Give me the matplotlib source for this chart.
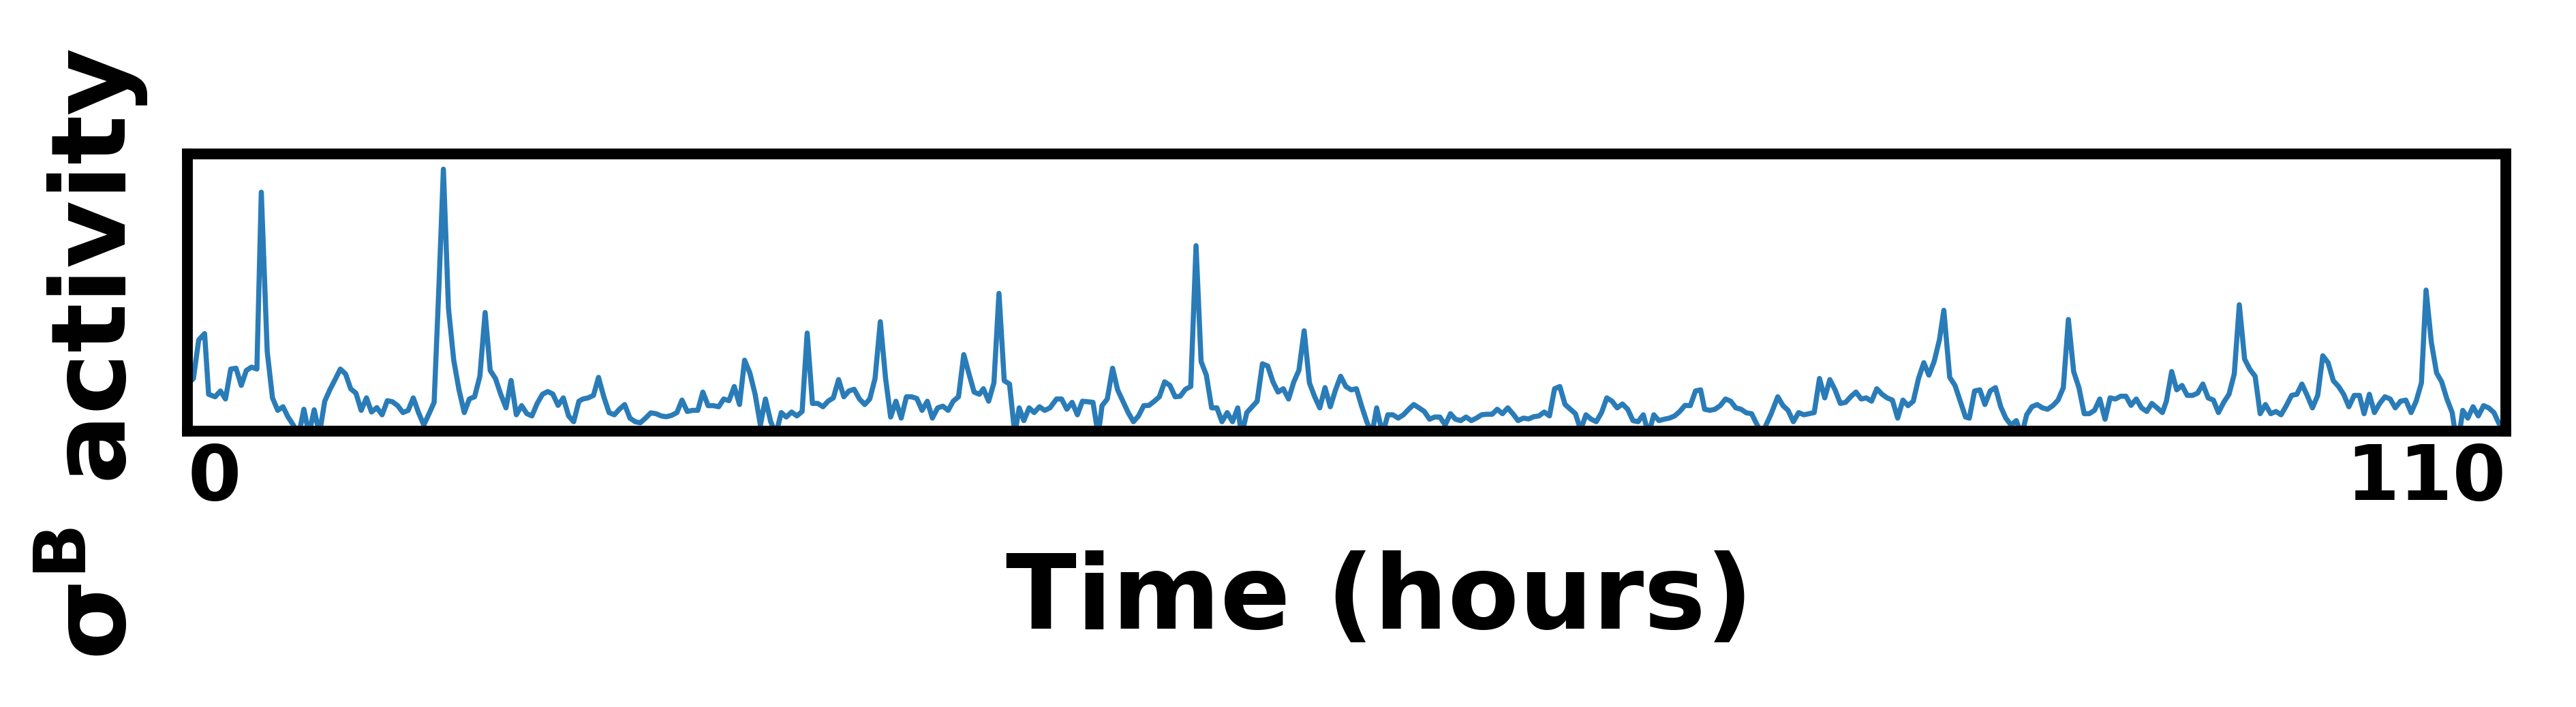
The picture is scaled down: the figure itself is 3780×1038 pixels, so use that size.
import numpy as np
import matplotlib
matplotlib.use('Agg')
import matplotlib.pyplot as plt

# sigma-B reporter trace (hours, activity in % of axis height)
hours = [0.00, 0.28, 0.53, 0.81, 1.00, 1.31, 1.56, 1.80, 2.05, 2.30, 2.55, 2.79, 3.04, 3.29, 3.50, 3.78,
         4.03, 4.28, 4.53, 4.77, 5.02, 5.27, 5.52, 5.76, 6.01, 6.26, 6.51, 6.75, 7.00, 7.25, 7.50, 7.74,
         7.99, 8.24, 8.49, 8.73, 8.98, 9.23, 9.48, 9.72, 9.97, 10.22, 10.47, 10.71, 10.96, 11.21, 11.46,
         11.70, 11.93, 12.14, 12.38, 12.63, 12.88, 13.13, 13.37, 13.62, 13.87, 14.12, 14.36, 14.61, 14.86,
         15.11, 15.35, 15.60, 15.85, 16.10, 16.34, 16.59, 16.84, 17.09, 17.33, 17.58, 17.83, 18.08, 18.32,
         18.57, 18.76, 19.01, 19.26, 19.50, 19.75, 20.00, 20.25, 20.49, 20.74, 20.99, 21.24, 21.48, 21.73,
         21.98, 22.23, 22.47, 22.72, 22.97, 23.22, 23.46, 23.71, 23.96, 24.21, 24.45, 24.70, 24.95, 25.20,
         25.44, 25.69, 25.94, 26.19, 26.43, 26.68, 26.93, 27.18, 27.42, 27.67, 27.92, 28.17, 28.41, 28.66,
         28.91, 29.16, 29.40, 29.65, 29.90, 30.15, 30.39, 30.64, 30.89, 31.14, 31.38, 31.63, 31.88, 32.13,
         32.37, 32.62, 32.87, 33.12, 33.36, 33.61, 33.86, 34.11, 34.35, 34.60, 34.85, 35.10, 35.34, 35.59,
         35.84, 36.09, 36.33, 36.58, 36.83, 37.08, 37.32, 37.57, 37.76, 38.01, 38.26, 38.50, 38.75, 39.00,
         39.25, 39.46, 39.68, 39.93, 40.17, 40.42, 40.67, 40.92, 41.23, 41.47, 41.72, 41.97, 42.22, 42.46,
         42.71, 42.96, 43.21, 43.39, 43.64, 43.89, 44.13, 44.38, 44.63, 44.88, 45.12, 45.37, 45.62, 45.87,
         46.11, 46.36, 46.61, 46.86, 47.10, 47.35, 47.60, 47.85, 48.09, 48.34, 48.59, 48.84, 49.08, 49.33,
         49.58, 49.83, 50.01, 50.26, 50.51, 50.75, 51.00, 51.25, 51.50, 51.74, 51.99, 52.24, 52.49, 52.73,
         52.98, 53.23, 53.48, 53.72, 53.97, 54.22, 54.47, 54.71, 54.96, 55.21, 55.46, 55.70, 55.95, 56.20,
         56.42, 56.70, 56.95, 57.19, 57.44, 57.69, 57.94, 58.18, 58.43, 58.68, 58.93, 59.17, 59.42, 59.67,
         59.92, 60.16, 60.41, 60.66, 60.91, 61.15, 61.40, 61.65, 61.90, 62.14, 62.39, 62.64, 62.88, 63.13,
         63.38, 63.63, 63.87, 64.12, 64.37, 64.62, 64.86, 65.11, 65.36, 65.61, 65.85, 66.10, 66.35, 66.60,
         66.84, 67.09, 67.34, 67.59, 67.83, 68.08, 68.33, 68.58, 68.82, 69.07, 69.32, 69.57, 69.81, 70.06,
         70.31, 70.56, 70.80, 71.05, 71.30, 71.55, 71.79, 71.98, 72.23, 72.47, 72.72, 72.97, 73.22, 73.46,
         73.71, 73.96, 74.21, 74.45, 74.70, 75.14, 75.45, 75.70, 75.94, 76.19, 76.44, 76.69, 76.93, 77.18,
         77.43, 77.68, 77.92, 78.17, 78.42, 78.67, 78.91, 79.16, 79.41, 79.65, 79.90, 80.15, 80.40, 80.64,
         80.89, 81.14, 81.39, 81.63, 81.88, 82.13, 82.38, 82.62, 82.87, 83.12, 83.33, 83.61, 83.86, 84.11,
         84.36, 84.54, 84.79, 85.04, 85.28, 85.53, 85.78, 86.03, 86.27, 86.52, 86.77, 87.02, 87.26, 87.51,
         87.76, 88.01, 88.25, 88.50, 88.75, 89.00, 89.24, 89.49, 89.74, 89.99, 90.23, 90.48, 90.73, 90.98,
         91.22, 91.47, 91.72, 91.97, 92.21, 92.46, 92.71, 92.96, 93.20, 93.45, 93.70, 93.89, 94.14, 94.38,
         94.63, 94.88, 95.13, 95.37, 95.62, 95.87, 96.12, 96.36, 96.61, 96.86, 97.11, 97.35, 97.60, 97.85,
         98.10, 98.34, 98.59, 98.84, 99.09, 99.33, 99.58, 99.83, 100.08, 100.32, 100.57, 100.82, 101.07,
         101.31, 101.56, 101.81, 102.06, 102.30, 102.55, 102.80, 103.05, 103.27, 103.52, 103.76, 104.01,
         104.26, 104.51, 104.75, 105.00, 105.25, 105.50, 105.74, 105.99, 106.21, 106.46, 106.71, 106.95,
         107.20, 107.45, 107.70, 107.95, 108.19, 108.44, 108.69, 108.94, 109.18, 109.43, 109.68, 110.00]

activity = [17.0, 19.0, 32.9, 35.2, 13.3, 12.4, 14.5, 11.6, 22.4, 22.7, 16.5, 21.9, 23.1, 22.4, 86.2, 28.8,
            12.0, 7.5, 8.8, 5.1, 2.2, -1.5, 7.9, -1.0, 7.7, -1.0, 10.8, 14.9, 18.6, 22.4, 20.6, 15.3,
            13.7, 7.5, 12.0, 6.9, 8.5, 5.9, 11.0, 10.6, 9.2, 6.7, 7.5, 12.0, 6.7, 2.2, 6.3,
            10.4, 52.6, 94.5, 44.4, 25.6, 14.9, 6.7, 11.6, 12.4, 19.8, 42.8, 21.9, 19.0, 13.3,
            8.4, 18.3, 5.9, 9.2, 6.3, 5.5, 10.0, 13.3, 14.3, 13.4, 9.3, 12.0, 5.5, 3.4,
            10.8, 11.6, 12.0, 12.9, 19.4, 12.4, 6.7, 5.9, 7.9, 9.6, 4.7, 3.4, 3.0, 4.7,
            6.6, 6.3, 5.5, 5.2, 5.7, 6.7, 11.2, 7.1, 7.5, 7.5, 14.1, 9.2, 9.2, 8.8,
            11.6, 11.0, 16.1, 9.6, 25.6, 21.0, 13.3, 2.2, 11.6, 3.4, -1.0, 6.7, 5.1, 6.9,
            5.5, 7.1, 35.4, 10.0, 10.0, 8.8, 10.8, 12.0, 18.6, 12.4, 14.5, 15.1, 11.6, 9.6,
            11.6, 19.0, 39.5, 19.0, 5.1, 10.8, 4.7, 12.4, 12.4, 11.8, 7.5, 10.8, 4.7, 8.4,
            9.0, 7.5, 10.8, 12.4, 27.6, 20.6, 14.1, 13.3, 15.3, 10.8, 17.4, 49.7, 18.2, 17.0,
            -1.0, 8.4, 3.8, 8.4, 6.7, 8.8, 7.5, 8.4, 11.6, 11.6, 7.9, 10.4, 5.9, 10.8,
            10.6, 10.4, -1.5, 9.2, 11.6, 22.7, 14.9, 10.8, 6.7, 3.4, 5.5, 9.2, 9.3, 10.8,
            12.4, 17.8, 16.5, 12.4, 12.6, 15.1, 16.1, 66.9, 25.1, 20.2, 8.4, 8.4, 3.4, 6.7,
            3.4, 8.4, -1.5, 6.7, 8.8, 10.8, 24.3, 23.5, 17.8, 14.1, 15.3, 11.6, 17.8, 21.9,
            36.2, 17.4, 12.4, 8.4, 15.7, 8.8, 14.9, 19.8, 16.1, 14.9, 15.3, 9.2, 3.4, -1.0,
            8.4, -1.0, 5.9, 5.9, 4.7, 5.9, 7.9, 9.6, 8.4, 7.1, 4.3, 5.1, 5.1, 2.2,
            6.3, 4.3, 3.8, 5.1, 3.8, 4.7, 5.9, 6.1, 6.1, 7.9, 6.3, 8.4, 6.3, 3.8,
            4.7, 4.4, 5.2, 5.5, 6.9, 5.5, 15.3, 16.1, 9.6, 7.9, 6.3, 0.5, 5.9, 4.3,
            3.4, 6.7, 12.0, 10.8, 8.4, 9.8, 7.9, 3.8, 3.4, 5.9, -1.0, 5.9, 3.8, 4.3,
            4.7, 5.5, 7.1, 9.3, 9.2, 14.5, 14.9, 7.9, 7.5, 7.9, 9.2, 11.6, 10.8, 8.4,
            7.9, 6.6, 6.3, 2.6, -1.0, 6.3, 12.4, 9.2, 7.5, 3.4, 6.7, 5.9, 6.3, 6.7,
            19.0, 12.0, 18.6, 14.9, 10.0, 10.4, 12.4, 14.1, 11.6, 12.0, 10.8, 15.3, 13.3, 12.0,
            11.2, 4.7, 11.2, 9.2, 10.8, 19.0, 24.7, 20.2, 25.1, 32.9, 43.6, 19.4, 16.5, 10.8,
            5.1, 4.7, 14.5, 14.9, 9.6, 14.5, 15.7, 8.8, 4.7, 2.2, 3.8, -1.5, 5.9, 8.8,
            9.6, 8.4, 7.9, 9.2, 11.2, 15.7, 40.3, 21.5, 15.7, 6.3, 6.3, 7.5, 11.6, 4.3,
            12.0, 11.6, 12.6, 12.6, 9.3, 11.6, 8.4, 7.1, 10.0, 8.4, 6.7, 10.8, 21.5, 14.9,
            16.5, 12.9, 12.9, 13.7, 17.0, 12.0, 11.2, 6.7, 10.4, 13.3, 20.6, 45.6, 26.0, 22.3,
            19.8, 6.3, 9.6, 6.3, 7.1, 5.9, 9.2, 12.9, 13.3, 17.0, 12.9, 8.4, 12.9,
            27.2, 24.7, 18.2, 16.1, 13.3, 8.8, 12.9, 12.9, 6.3, 13.3, 6.7, 10.0,
            12.4, 11.6, 8.4, 10.8, 11.2, 6.7, 10.8, 17.4, 50.9, 32.1, 21.0, 17.8,
            11.6, 6.7, -6.0, 7.5, 4.7, 8.8, 5.5, 9.2, 8.4, 6.7, 2.6, -2.0]

tick_pos = [0, 110]
tick_text = ['0', '110']

fig = plt.figure(figsize=(12.6, 3.4633), dpi=300)
ax = fig.add_axes([0.0728, 0.3898, 0.9000, 0.3917])

ax.plot(hours, activity, color='#2a7cb8', lw=1.8)
ax.set_xlim(0, 110)
ax.set_ylim(0, 100)

ax.set_yticks([])
ax.set_xticks(tick_pos)
labels = ax.set_xticklabels(tick_text, fontsize=27, fontweight='bold')
labels[0].set_ha('left')
labels[1].set_ha('right')
ax.tick_params(axis='x', length=0, pad=3.5)

for sp in ax.spines.values():
    sp.set_linewidth(3.8)
    sp.set_color('black')

fig.text(0.5354, 0.1116, 'Time (hours)', ha='center', va='baseline',
         fontsize=36.5, fontweight='bold')
fig.text(0.0489, 0.50, r'$\mathbf{\sigma^B}$ activity', rotation=90,
         ha='center', va='baseline', rotation_mode='anchor',
         fontsize=36.5, fontweight='bold')

fig.savefig('out.png', dpi=300)
